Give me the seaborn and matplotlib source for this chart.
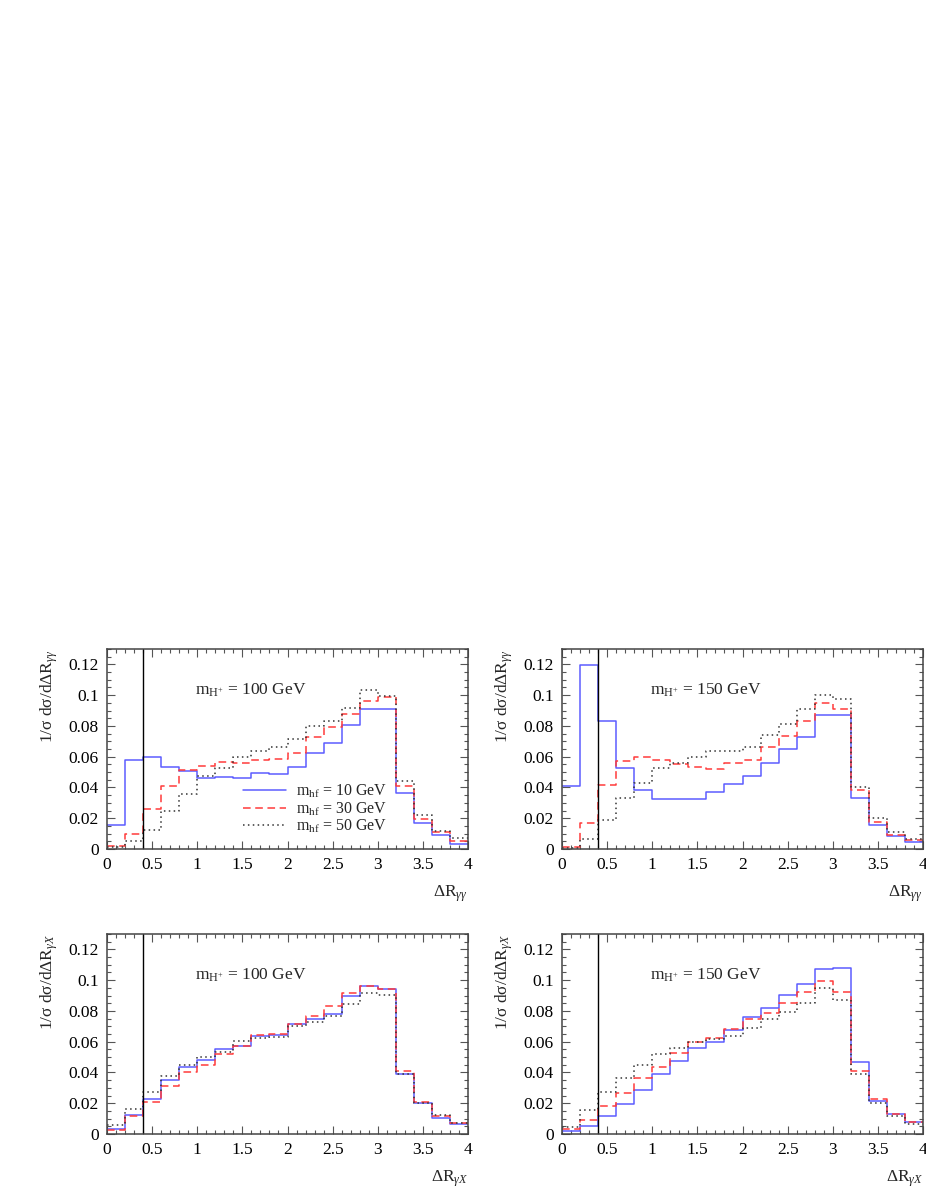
"""
Normalised Delta-R distributions for charged Higgs (m_H+ = 100 / 150 GeV),
three hf masses each, drawn as step histograms with seaborn.
"""
import pandas as pd
import matplotlib
matplotlib.use("Agg")
import matplotlib.pyplot as plt
from matplotlib.lines import Line2D
from matplotlib.ticker import MultipleLocator, FormatStrFormatter
import seaborn as sns

# --- binning ---
bin_edges = [round(0.2 * k, 1) for k in range(21)]
bin_centers = [round(0.2 * k + 0.1, 2) for k in range(20)]

# --- Delta R(gamma gamma), m_H+ = 100 GeV ---
gg100_m10 = [0.0156, 0.058, 0.060, 0.053, 0.051, 0.046, 0.047, 0.046, 0.0495, 0.0486,
             0.053, 0.0627, 0.0686, 0.0807, 0.091, 0.0911, 0.0365, 0.0167, 0.0089, 0.0035]
gg100_m30 = [0.0017, 0.010, 0.026, 0.0408, 0.0514, 0.054, 0.0564, 0.056, 0.0577, 0.0584,
             0.0623, 0.0725, 0.079, 0.0875, 0.096, 0.0985, 0.041, 0.0197, 0.0108, 0.0052]
gg100_m50 = [0.001, 0.0054, 0.0124, 0.025, 0.036, 0.0475, 0.0527, 0.0597, 0.0634, 0.066,
             0.0714, 0.080, 0.083, 0.0916, 0.1033, 0.0994, 0.0445, 0.022, 0.012, 0.0074]

# --- Delta R(gamma gamma), m_H+ = 150 GeV ---
gg150_m10 = [0.0412, 0.1198, 0.0833, 0.0525, 0.0382, 0.0328, 0.0326, 0.0328, 0.0371, 0.0421,
             0.0475, 0.0556, 0.0653, 0.0731, 0.0868, 0.0872, 0.0334, 0.0154, 0.0085, 0.0043]
gg150_m30 = [0.0015, 0.0167, 0.0419, 0.0573, 0.0597, 0.0577, 0.0551, 0.0532, 0.0519, 0.056,
             0.0577, 0.0664, 0.0736, 0.0829, 0.0946, 0.0907, 0.0384, 0.0178, 0.0093, 0.0056]
gg150_m50 = [0.0009, 0.0067, 0.0191, 0.0332, 0.0432, 0.0527, 0.056, 0.0597, 0.0634, 0.0634,
             0.0664, 0.0744, 0.0814, 0.0911, 0.100, 0.0972, 0.0401, 0.0204, 0.0113, 0.0063]

# --- Delta R(gamma X), m_H+ = 100 GeV ---
gx100_m10 = [0.0033, 0.0124, 0.0228, 0.035, 0.0434, 0.0484, 0.0553, 0.0575, 0.064, 0.0645,
             0.0716, 0.0749, 0.0783, 0.0896, 0.0961, 0.0944, 0.039, 0.0202, 0.0104, 0.0067]
gx100_m30 = [0.0028, 0.0115, 0.0206, 0.0315, 0.0401, 0.0451, 0.0521, 0.0569, 0.0645, 0.0651,
             0.0718, 0.0768, 0.0835, 0.0916, 0.0961, 0.0944, 0.0412, 0.0206, 0.0117, 0.0069]
gx100_m50 = [0.0056, 0.0163, 0.0273, 0.0378, 0.0447, 0.0503, 0.0532, 0.0605, 0.0625, 0.0632,
             0.0703, 0.0729, 0.0768, 0.0844, 0.0914, 0.0905, 0.039, 0.0204, 0.0122, 0.0072]

# --- Delta R(gamma X), m_H+ = 150 GeV ---
gx150_m10 = [0.002, 0.0054, 0.0117, 0.0195, 0.0286, 0.0393, 0.0475, 0.056, 0.0599, 0.0673,
             0.0762, 0.082, 0.0903, 0.0977, 0.107, 0.1076, 0.0469, 0.0217, 0.013, 0.0076]
gx150_m30 = [0.003, 0.0091, 0.0182, 0.0267, 0.0365, 0.0438, 0.0525, 0.0597, 0.0625, 0.0681,
             0.0749, 0.0788, 0.0849, 0.092, 0.0996, 0.092, 0.0408, 0.0228, 0.0132, 0.008]
gx150_m50 = [0.0048, 0.0158, 0.0273, 0.0365, 0.0451, 0.0521, 0.0556, 0.0597, 0.062, 0.064,
             0.069, 0.0749, 0.0794, 0.0849, 0.0946, 0.0868, 0.039, 0.02, 0.0119, 0.0067]

hf_masses = ["10", "30", "50"]

# series styles
COLORS = ["#5c5cff", "#ff3b3b", "#333333"]
STYLES = ["-", (0, (5, 3)), (0, (1, 2.2))]

sns.set_theme(style="ticks")
plt.rcParams["font.family"] = ["Liberation Serif", "DejaVu Serif"]
plt.rcParams["mathtext.fontset"] = "custom"
plt.rcParams["mathtext.rm"] = "Liberation Serif"
plt.rcParams["mathtext.it"] = "Liberation Serif:italic"
plt.rcParams["axes.linewidth"] = 1.1
plt.rcParams["axes.edgecolor"] = "#444444"

W, H = 926, 1199
fig = plt.figure(figsize=(W / 100, H / 100), dpi=100)


def px_axes(x0, x1, ytop, ybot):
    return fig.add_axes([x0 / W, (H - ybot) / H, (x1 - x0) / W, (ybot - ytop) / H])


panels = [
    (px_axes(107, 468, 649, 849), [gg100_m10, gg100_m30, gg100_m50], "100", r"\gamma\gamma"),
    (px_axes(562, 923, 649, 849), [gg150_m10, gg150_m30, gg150_m50], "150", r"\gamma\gamma"),
    (px_axes(107, 468, 934, 1134), [gx100_m10, gx100_m30, gx100_m50], "100", r"\gamma X"),
    (px_axes(562, 923, 934, 1134), [gx150_m10, gx150_m30, gx150_m50], "150", r"\gamma X"),
]

for i, (ax, series, mh, sub) in enumerate(panels):
    for vals, col, ls in zip(series, COLORS, STYLES):
        df = pd.DataFrame({"dR": bin_centers, "w": vals})
        sns.histplot(data=df, x="dR", weights="w", bins=bin_edges, element="step",
                     fill=False, color=col, linestyle=ls, linewidth=1.1, ax=ax)

    ax.axvline(0.4, color="black", lw=1.0)
    ax.set_xlim(0, 4)
    ax.set_ylim(0, 0.13)

    ax.xaxis.set_major_locator(MultipleLocator(0.5))
    ax.xaxis.set_minor_locator(MultipleLocator(0.1))
    ax.yaxis.set_major_locator(MultipleLocator(0.02))
    ax.yaxis.set_minor_locator(MultipleLocator(0.005))
    ax.xaxis.set_major_formatter(FormatStrFormatter("%g"))
    ax.yaxis.set_major_formatter(FormatStrFormatter("%g"))
    ax.tick_params(which="both", direction="in", top=True, right=True,
                   labelsize=12.5, color="#555555", labelcolor="black", width=0.8)
    ax.tick_params(which="major", length=5.8)
    ax.tick_params(axis="x", which="major", pad=6)
    ax.tick_params(axis="y", which="major", pad=6)
    ax.tick_params(which="minor", length=2.9)

    ax.set_xlabel(r"ΔR$_{%s}$" % sub, fontsize=12.5, loc="right")
    ax.xaxis.set_label_coords(1.0, -0.17)
    ax.set_ylabel(r"1/σ dσ/dΔR$_{%s}$" % sub, fontsize=12.5, loc="top")
    ax.yaxis.set_label_coords(-0.13, 1.0)

    ax.text(0.97, 0.103, r"m$_{\mathrm{H}^{+}}$ = %s GeV" % mh, fontsize=12.5,
            ha="left", va="center", transform=ax.transData)

    if i == 0:
        handles = [Line2D([], [], color=c, linestyle=s, lw=1.1) for c, s in zip(COLORS, STYLES)]
        labels = [r"m$_{\mathrm{hf}}$ = %s GeV" % m for m in hf_masses]
        ax.legend(handles, labels, loc="upper left", bbox_to_anchor=(0.377, 0.33),
                  frameon=False, fontsize=11.5, handlelength=2.7, handletextpad=0.6,
                  labelspacing=0.0, borderpad=0, borderaxespad=0)

plt.savefig("out.png", dpi=100, facecolor="white")
plt.close()
